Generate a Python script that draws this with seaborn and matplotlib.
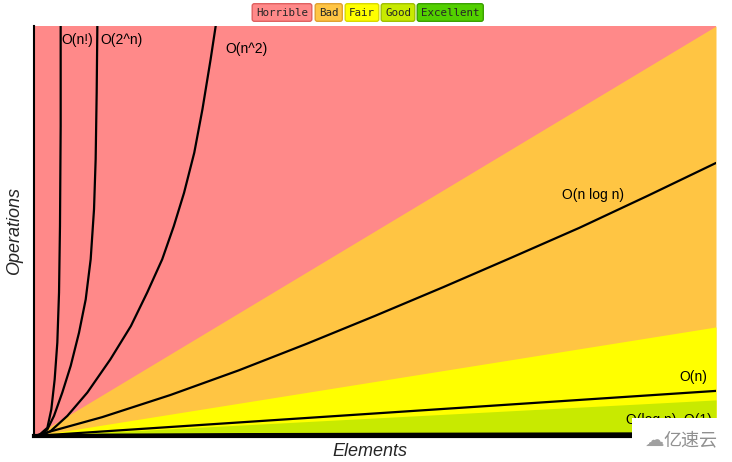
import matplotlib
matplotlib.use("Agg")
import matplotlib.pyplot as plt
import seaborn as sns
import pandas as pd
from matplotlib.patches import Rectangle

# ---- data (x: Elements 0-100, y: Operations 0-100) ----
region_x = [0, 100]
bad_top = [0, 100]
fair_top = [0, 26.6]
good_top = [0, 8.8]
excellent_top = [0, 1.0]

fact_x = [0, 0.8, 1.96, 2.54, 3.03, 3.42, 3.67, 3.81, 3.91, 3.91, 3.93]
fact_y = [0, 0.3, 2.0, 6.5, 13.8, 22.8, 35.0, 51.2, 75.6, 100, 110]

exp_x = [0, 1.0, 1.96, 2.93, 4.15, 5.38, 6.60, 7.58, 8.31, 8.80, 9.04, 9.19, 9.29, 9.33]
exp_y = [0, 0.3, 1.6, 4.9, 10.6, 17.1, 25.2, 33.3, 43.1, 55.3, 67.5, 83.7, 100, 110]

sq_x = [0, 1.2, 2.44, 4.89, 7.82, 11.2, 14.2, 16.6, 18.8, 20.5, 22.0, 23.5, 24.7, 25.9, 26.64, 27.1]
sq_y = [0, 0.2, 1.2, 4.9, 10.6, 18.7, 26.8, 35.0, 43.1, 51.2, 59.3, 69.1, 79.7, 91.9, 100, 106]

nlogn_x = [0, 10, 20, 30, 40, 50, 60, 70, 80, 90, 100]
nlogn_y = [0, 4.6, 10.0, 16.0, 22.5, 29.3, 36.3, 43.5, 50.8, 58.6, 66.6]

lin_x = [0, 100]
lin_y = [0, 11.0]

logn_x = [0, 10, 30, 60, 100]
logn_y = [0, 0.3, 0.45, 0.55, 0.65]

const_x = [0, 100]
const_y = [0, 0]

legend_names = ["Horrible", "Bad", "Fair", "Good", "Excellent"]
legend_colors = ["#FF8989", "#FFC543", "#FFFF00", "#C8EA00", "#53D000"]
legend_edges = ["#E06060", "#E0A030", "#D8D800", "#A0C000", "#3AA000"]

curve_labels = ["O(n!)", "O(2^n)", "O(n^2)", "O(n log n)", "O(n)", "O(log n), O(1)"]
label_x = [4.0, 9.8, 28.0, 77.4, 94.7, 86.8]
label_y = [96.6, 96.6, 94.4, 58.8, 14.4, 3.9]

# ---- figure ----
sns.set_style("white")
plt.rcParams['font.family'] = ['Liberation Sans', 'DejaVu Sans']

fig = plt.figure(figsize=(7.32, 4.62), dpi=100)
ax = fig.add_axes([34/732, 26/462, 682/732, 410/462])

ax.set_facecolor(legend_colors[0])
ax.fill_between(region_x, 0, bad_top, color=legend_colors[1], lw=0)
ax.fill_between(region_x, 0, fair_top, color=legend_colors[2], lw=0)
ax.fill_between(region_x, 0, good_top, color=legend_colors[3], lw=0)
ax.fill_between(region_x, 0, excellent_top, color=legend_colors[4], lw=0)

curves = [(fact_x, fact_y), (exp_x, exp_y), (sq_x, sq_y), (nlogn_x, nlogn_y),
          (lin_x, lin_y), (logn_x, logn_y), (const_x, const_y)]
for cx, cy in curves:
    df = pd.DataFrame({"x": cx, "y": cy})
    sns.lineplot(data=df, x="x", y="y", ax=ax, color="black", lw=1.6,
                 sort=False, estimator=None)
for ln in ax.lines:
    ln.set_solid_joinstyle("round")

ax.set_xlim(0, 100)
ax.set_ylim(0, 100)
ax.set_xticks([])
ax.set_yticks([])
ax.set_xlabel("")
ax.set_ylabel("")
for s in ["top", "right"]:
    ax.spines[s].set_visible(False)
ax.spines["left"].set_color("black")
ax.spines["left"].set_linewidth(1.5)
ax.spines["bottom"].set_color("black")
ax.spines["bottom"].set_linewidth(3)

for t, x, y in zip(curve_labels, label_x, label_y):
    ax.text(x, y, t, fontsize=10, color="black", ha="left", va="center")

fig.text(0.5 + 4/732, 1 - 452/462, "Elements", fontsize=13, style="italic",
         ha="center", va="center")
fig.text(15/732, 1 - 231/462, "Operations", fontsize=13, style="italic",
         rotation=90, ha="center", va="center")

# legend boxes at top
legend_left = [256, 319, 349, 385, 421]
for name, c, ec, lx in zip(legend_names, legend_colors, legend_edges, legend_left):
    fig.text(lx/732, 1 - 12.5/462, name, fontsize=7.8, family="DejaVu Sans Mono",
             ha="left", va="center",
             bbox=dict(boxstyle="round,pad=0.35,rounding_size=0.2", fc=c, ec=ec, lw=1))

# watermark corner
fig.patches.append(Rectangle((632/732, 0), 100/732, 44/462, transform=fig.transFigure,
                             facecolor="white", edgecolor="none", zorder=10))
fig.text(690/732, 1 - 440/462, "亿速云", fontsize=13, color="#909090",
         family=["Noto Sans CJK SC", "DejaVu Sans"], ha="center", va="center", zorder=11)
fig.text(655/732, 1 - 440/462, "\u2601", fontsize=14, color="#A0A0A0",
         family=["DejaVu Sans"], ha="center", va="center", zorder=11)

fig.savefig("out.png", dpi=100)
